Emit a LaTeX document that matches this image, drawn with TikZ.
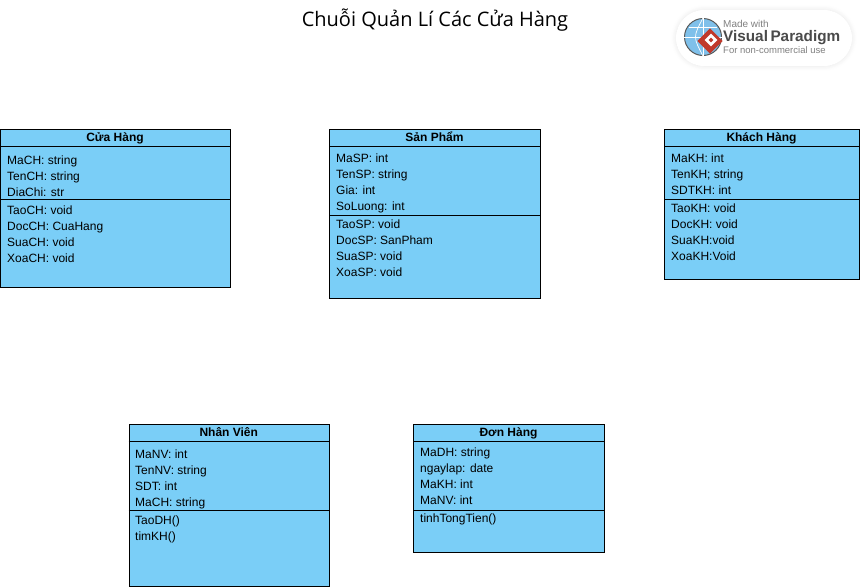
\documentclass[tikz,border=0pt]{standalone}
\usepackage{fontspec}
\setmainfont{Liberation Sans}
\newfontfamily\titlefont{Open Sans}
\usetikzlibrary{shadows.blur}
\definecolor{boxblue}{HTML}{7ACEF7}
\definecolor{vpgrey}{HTML}{4A4A4A}
\definecolor{vpred}{HTML}{C0392B}
\definecolor{globeblue}{HTML}{7FC0EA}
\tikzset{
  x=1pt,y=-1pt,
  umlbox/.style={draw=black,fill=boxblue,line width=0.9pt,anchor=north west,inner sep=0pt},
  umlrule/.style={draw=black,line width=0.9pt},
  umlhead/.style={font=\fontsize{12}{14}\selectfont\bfseries,inner sep=0pt,anchor=center,text height=9pt,text depth=2.5pt},
  umlrow/.style={font=\fontsize{12}{14}\selectfont,inner sep=0pt,anchor=west,text height=9pt,text depth=2.5pt},
}
\newcommand{\umlclass}[9]{%
 \node[umlbox,minimum width=#4pt,minimum height=#5pt] (#1) at (#2,#3) {};
 \draw[umlrule] (#2,#6) -- ++(#4,0);
 \draw[umlrule] (#2,#7) -- ++(#4,0);
 \node[umlhead] (#1title) at ({#2+#4/2},{(#3+#6)/2+0.8}) {#8};
 #9
}
\newcommand{\rowat}[4]{\node[umlrow] (#1) at (#2,{#3+1}) {#4};}
\begin{document}
\begin{tikzpicture}
\useasboundingbox (0,0) rectangle (860,587);
\node[font=\titlefont\fontsize{20}{24}\selectfont,inner sep=0pt] (title) at (435,20) {Chuỗi Quản Lí Các Cửa Hàng};

% logo
\node[draw=none,fill=white,rounded corners=28pt,minimum width=176pt,minimum height=56pt,inner sep=0pt,
  blur shadow={shadow blur steps=10,shadow xshift=0pt,shadow yshift=0pt,shadow blur radius=5pt,shadow opacity=10}] (logo) at (764,38) {};
\node[circle,draw=gray!70!black,line width=1pt,fill=globeblue,minimum size=37pt,inner sep=0pt] (globe) at (703,37) {};
\draw[white,line width=0.7pt] (globe.north) .. controls (693,37) .. (globe.south);
\draw[white,line width=0.7pt] (globe.north) -- (globe.south);
\draw[white,line width=0.7pt] (globe.west) -- (globe.east);
\draw[white,line width=0.7pt] (689,27) -- (717,27);
\node[fill=vpred,minimum size=18pt,rotate=45,inner sep=0pt] (gem) at (710,41) {};
\node[fill=white,minimum size=9pt,rotate=45,inner sep=0pt] (gemhole) at (711,40) {};
\node[fill=vpred,minimum size=3.5pt,rotate=45,inner sep=0pt] (gemcore) at (711,40) {};
\node[font=\fontsize{10}{11}\selectfont,text=gray,anchor=west,inner sep=0pt] (vp1) at (723,24) {Made with};
\node[font=\fontsize{15.3}{17}\selectfont\bfseries,text=vpgrey,anchor=west,inner sep=0pt] (vp2) at (723,37.5) {Visual\,Paradigm};
\node[font=\fontsize{9.5}{10}\selectfont,text=gray,anchor=west,inner sep=0pt] (vp3) at (723,50) {For non-commercial use};

\umlclass{ch}{0}{129}{230}{158}{146}{199}{Cửa Hàng}{
 \rowat{ch1}{7}{160}{MaCH: string}
 \rowat{ch2}{7}{176}{TenCH: string}
 \rowat{ch3}{7}{192}{DiaChi: str}
 \rowat{ch4}{7}{210}{TaoCH: void}
 \rowat{ch5}{7}{226}{DocCH: CuaHang}
 \rowat{ch6}{7}{242}{SuaCH: void}
 \rowat{ch7}{7}{258}{XoaCH: void}
}
\umlclass{sp}{329}{129}{211}{169}{146}{215.5}{Sản Phẩm}{
 \rowat{sp1}{336}{158}{MaSP: int}
 \rowat{sp2}{336}{174}{TenSP: string}
 \rowat{sp3}{336}{190}{Gia: int}
 \rowat{sp4}{336}{206}{SoLuong: int}
 \rowat{sp5}{336}{224}{TaoSP: void}
 \rowat{sp6}{336}{240}{DocSP: SanPham}
 \rowat{sp7}{336}{256}{SuaSP: void}
 \rowat{sp8}{336}{272}{XoaSP: void}
}
\umlclass{kh}{664}{129}{195}{150}{146}{199}{Khách Hàng}{
 \rowat{kh1}{671}{158}{MaKH: int}
 \rowat{kh2}{671}{174}{TenKH; string}
 \rowat{kh3}{671}{190}{SDTKH: int}
 \rowat{kh4}{671}{208}{TaoKH: void}
 \rowat{kh5}{671}{224}{DocKH: void}
 \rowat{kh6}{671}{240}{SuaKH:void}
 \rowat{kh7}{671}{256}{XoaKH:Void}
}
\umlclass{nv}{128.5}{424}{200.5}{162}{441}{510.5}{Nhân Viên}{
 \rowat{nv1}{135}{454}{MaNV: int}
 \rowat{nv2}{135}{470}{TenNV: string}
 \rowat{nv3}{135}{486}{SDT: int}
 \rowat{nv4}{135}{502}{MaCH: string}
 \rowat{nv5}{135}{520}{TaoDH()}
 \rowat{nv6}{135}{536}{timKH()}
}
\umlclass{dh}{413}{424}{191}{128}{441}{510.5}{Đơn Hàng}{
 \rowat{dh1}{420}{452}{MaDH: string}
 \rowat{dh2}{420}{468}{ngaylap: date}
 \rowat{dh3}{420}{484}{MaKH: int}
 \rowat{dh4}{420}{500}{MaNV: int}
 \rowat{dh5}{420}{518}{tinhTongTien()}
}
\end{tikzpicture}
\end{document}
